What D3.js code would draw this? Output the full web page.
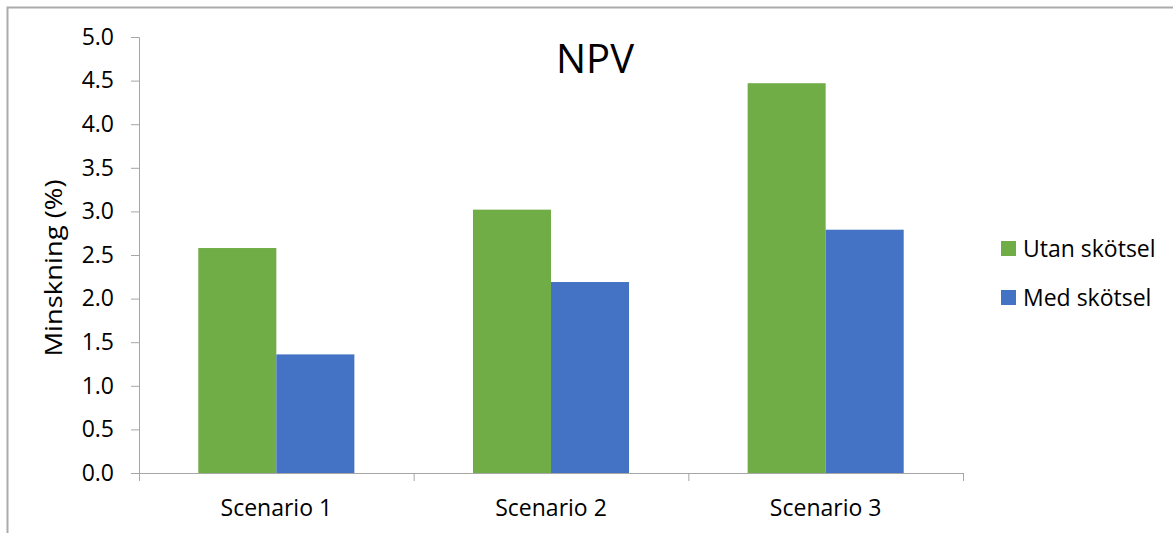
<!DOCTYPE html>
<html>
<head>
<meta charset="utf-8">
<script src="https://cdn.jsdelivr.net/npm/d3@7"></script>
<style>
  body { margin: 0; background: #fff; }
  svg { display: block; font-family: "Open Sans", sans-serif; }
</style>
</head>
<body>
<svg id="chart" width="1173" height="533"></svg>
<script>
// chart data
const scenarios = ['Scenario 1', 'Scenario 2', 'Scenario 3'];
const seriesNames = ['Utan skötsel', 'Med skötsel'];
const utanSkotsel = [2.58, 3.02, 4.47];
const medSkotsel = [1.36, 2.19, 2.79];
const yTicks = [0, 0.5, 1, 1.5, 2, 2.5, 3, 3.5, 4, 4.5, 5];
const colors = ['#70AD47', '#4472C4'];

const svg = d3.select('#chart');
const plotLeft = 139, plotRight = 963, plotTop = 37, plotBottom = 473;
const axisColor = '#A6A6A6';
const fontFam = '"Open Sans", sans-serif';

// outer chart border (only top/left visible in the original)
svg.append('rect')
  .attr('x', 7.5).attr('y', 7.5)
  .attr('width', 1200).attr('height', 600)
  .attr('fill', 'none')
  .attr('stroke', '#ABABAB')
  .attr('stroke-width', 2);

const x = d3.scaleBand().domain(scenarios).range([plotLeft, plotRight]);
const inner = d3.scaleBand().domain(seriesNames)
  .range([0, x.bandwidth()])
  .paddingInner(0).paddingOuter(0.76);
const y = d3.scaleLinear().domain([0, 5]).range([plotBottom, plotTop]);

// bars
const rows = scenarios.map((s, i) => ({ s, vals: [utanSkotsel[i], medSkotsel[i]] }));
const groups = svg.append('g').selectAll('g')
  .data(rows).join('g')
  .attr('transform', d => `translate(${x(d.s)},0)`);

groups.selectAll('rect')
  .data(d => d.vals.map((v, j) => ({ name: seriesNames[j], v, j })))
  .join('rect')
  .attr('x', d => inner(d.name))
  .attr('width', inner.bandwidth())
  .attr('y', d => y(d.v))
  .attr('height', d => y(0) - y(d.v))
  .attr('fill', d => colors[d.j]);

// y axis
const yAxis = svg.append('g')
  .attr('transform', `translate(${plotLeft},0)`)
  .call(d3.axisLeft(y).tickValues(yTicks).tickFormat(d3.format('.1f')).tickSize(8).tickPadding(17));
yAxis.selectAll('path, line').attr('stroke', axisColor);
yAxis.selectAll('text').attr('font-size', 23).attr('fill', '#000')
  .attr('font-family', fontFam);

// x axis
const xAxis = svg.append('g')
  .attr('transform', `translate(0,${plotBottom})`)
  .call(d3.axisBottom(x).tickSize(0).tickPadding(27));
xAxis.select('.domain').attr('stroke', axisColor);
xAxis.selectAll('text').attr('font-size', 23).attr('fill', '#000')
  .attr('font-family', fontFam);
// category separators
const seps = [plotLeft].concat(scenarios.map(s => x(s) + x.bandwidth()));
svg.append('g').selectAll('line')
  .data(seps).join('line')
  .attr('x1', d => d + 0.5).attr('x2', d => d + 0.5)
  .attr('y1', plotBottom).attr('y2', plotBottom + 8)
  .attr('stroke', axisColor);

// title
svg.append('text')
  .attr('x', 595).attr('y', 73)
  .attr('text-anchor', 'middle')
  .attr('font-size', 40)
  .text('NPV');

// y axis label
svg.append('text')
  .attr('transform', 'translate(62,268) rotate(-90)')
  .attr('text-anchor', 'middle')
  .attr('font-size', 24)
  .attr('textLength', 177)
  .attr('lengthAdjust', 'spacingAndGlyphs')
  .text('Minskning (%)');

// legend
const legend = svg.append('g').selectAll('g')
  .data(seriesNames).join('g')
  .attr('transform', (d, i) => `translate(1001,${241 + i * 49})`);
legend.append('rect')
  .attr('width', 15).attr('height', 15)
  .attr('fill', (d, i) => colors[i]);
legend.append('text')
  .attr('x', 22).attr('y', 15.5)
  .attr('font-size', 23)
  .text(d => d);
</script>
</body>
</html>
